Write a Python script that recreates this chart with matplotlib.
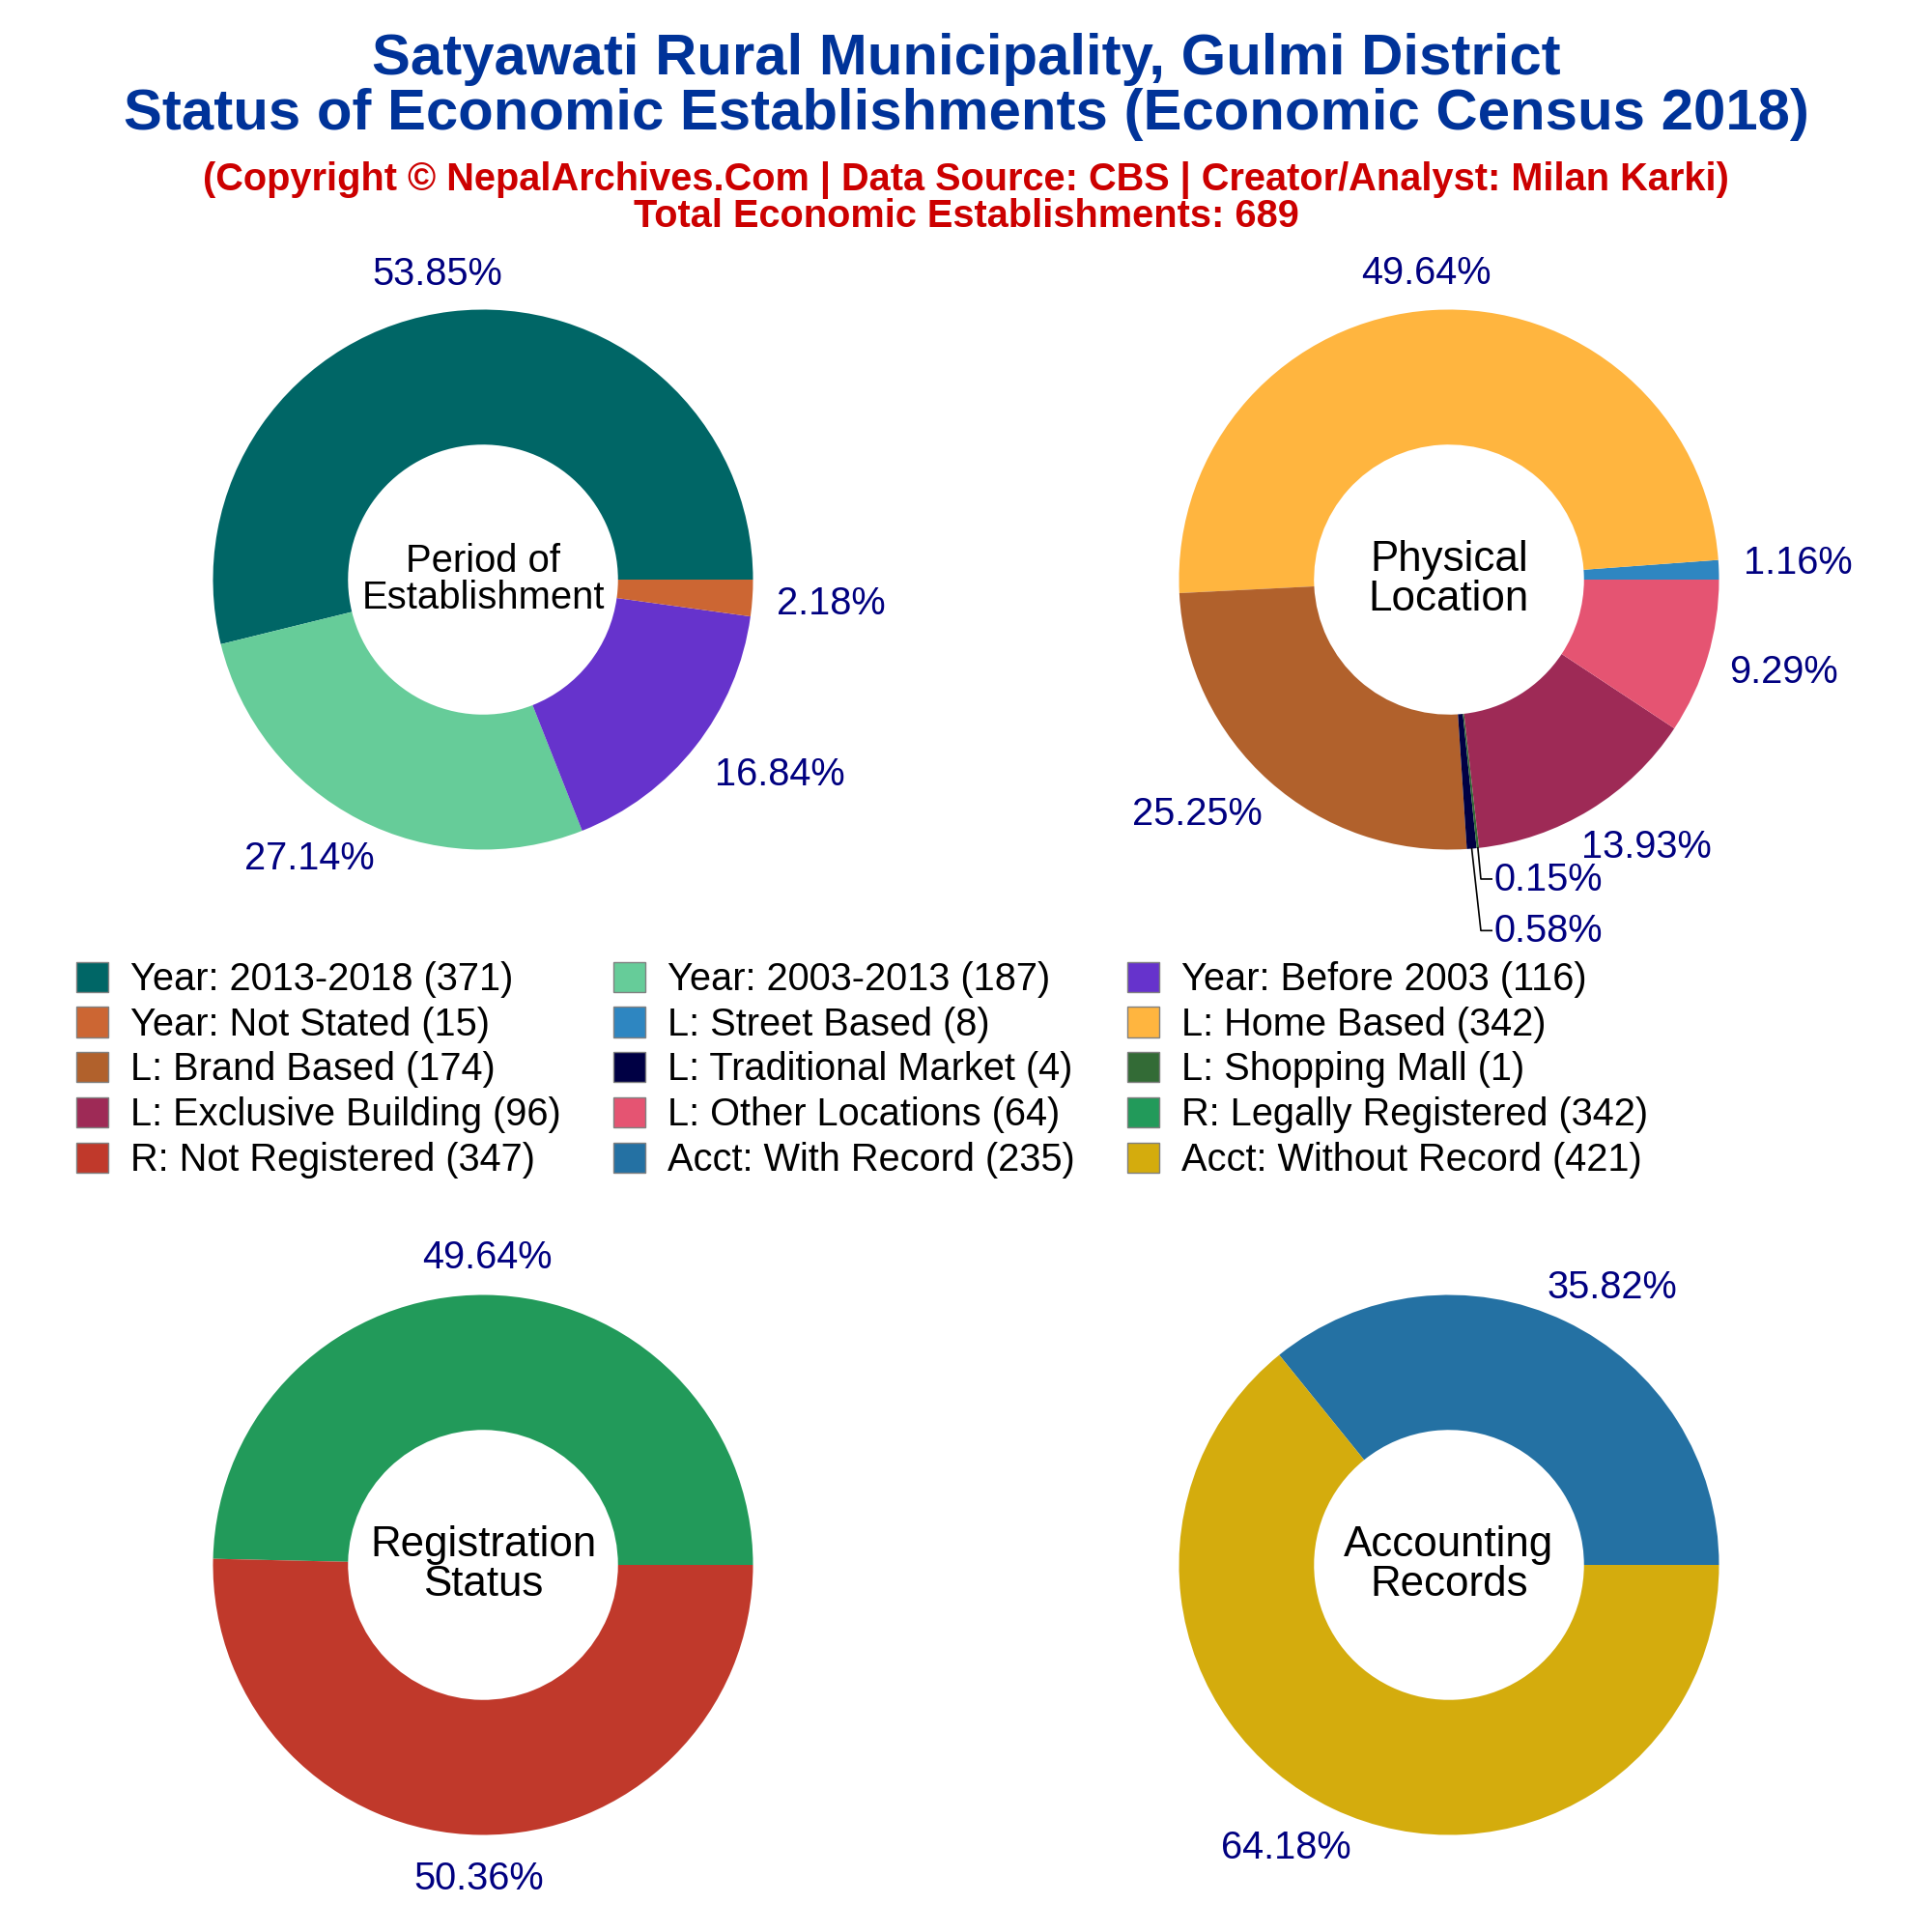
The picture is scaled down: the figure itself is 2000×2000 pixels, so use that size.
#!/usr/bin/env python3
# -*- coding: utf-8 -*-
import numpy as np
import matplotlib
matplotlib.use('Agg')
import matplotlib.pyplot as plt
from matplotlib.patches import Patch

plt.rcParams['font.family'] = ['Liberation Sans', 'DejaVu Sans']

title_main = 'Satyawati Rural Municipality, Gulmi District\nStatus of Economic Establishments (Economic Census 2018)'
title_sub = '(Copyright © NepalArchives.Com | Data Source: CBS | Creator/Analyst: Milan Karki)\nTotal Economic Establishments: 689'

# period of establishment
period_names = ['Year: 2013-2018', 'Year: 2003-2013', 'Year: Before 2003', 'Year: Not Stated']
period_vals = [371, 187, 116, 15]
period_cols = ['#006666', '#66CC99', '#6633CC', '#CC6633']

# physical location
loc_names = ['L: Street Based', 'L: Home Based', 'L: Brand Based', 'L: Traditional Market',
             'L: Shopping Mall', 'L: Exclusive Building', 'L: Other Locations']
loc_vals = [8, 342, 174, 4, 1, 96, 64]
loc_cols = ['#2E86C1', '#FFB53F', '#B1612C', '#000044', '#336B36', '#9E2A56', '#E55472']

# registration
reg_names = ['R: Legally Registered', 'R: Not Registered']
reg_vals = [342, 347]
reg_cols = ['#229A5A', '#C0392B']

# accounting
acct_names = ['Acct: With Record', 'Acct: Without Record']
acct_vals = [235, 421]
acct_cols = ['#2471A3', '#D4AC0D']

pct_color = '#000080'


def donut(ax, vals, cols, center_text, center_size=15.8, spacing=1.0, leader=None, nudge=None):
    vals = np.array(vals, dtype=float)
    ax.pie(vals, colors=cols, startangle=0, counterclock=True, radius=1.0,
           wedgeprops=dict(width=0.5, linewidth=0))
    ax.set_xlim(-1, 1)
    ax.set_ylim(-1, 1)
    ax.text(0, 0.0, center_text, ha='center', va='center', fontsize=center_size, linespacing=spacing)
    pct = vals / vals.sum() * 100
    mids = (np.cumsum(pct) - pct / 2) * 3.6
    for i, (p, m) in enumerate(zip(pct, mids)):
        txt = '%.2f%%' % p
        a = np.deg2rad(m)
        if leader and i in leader:
            # small slices get a bent line out to the label
            ly = leader[i]
            ax.plot([np.cos(a), 0.118, 0.158], [np.sin(a), ly, ly], color='black', lw=0.6,
                    clip_on=False)
            ax.text(0.168, ly - 0.003, txt, color=pct_color, fontsize=14.3, ha='left', va='center')
            continue
        rx = 1.40 if p >= 10 else 1.293
        x = rx * np.cos(a)
        y = 1.15 * np.sin(a) - 0.012
        if nudge and i in nudge:
            y += nudge[i]
        ax.text(x, y, txt, color=pct_color, fontsize=14.3, ha='center', va='center', clip_on=False)


fig = plt.figure(figsize=(10, 10), dpi=200)

# axes boxes follow the pie circles, figure fractions
r_px = 279.5
pw = 2 * r_px / 2000
ax1 = fig.add_axes([(500 - r_px) / 2000, 1 - (600 + r_px) / 2000, pw, pw])
ax2 = fig.add_axes([(1500 - r_px) / 2000, 1 - (600 + r_px) / 2000, pw, pw])
ax3 = fig.add_axes([(500 - r_px) / 2000, 1 - (1620 + r_px) / 2000, pw, pw])
ax4 = fig.add_axes([(1500 - r_px) / 2000, 1 - (1620 + r_px) / 2000, pw, pw])

donut(ax1, period_vals, period_cols, 'Period of\nEstablishment', center_size=14.4, spacing=1.03)
donut(ax2, loc_vals, loc_cols, 'Physical\nLocation', leader={3: -1.30, 4: -1.109}, nudge={0: 0.03})
donut(ax3, reg_vals, reg_cols, 'Registration\nStatus')
donut(ax4, acct_vals, acct_cols, 'Accounting\nRecords')

fig.text(0.5, 1 - 90 / 2000, title_main, color='#003399', fontsize=21.55, fontweight='bold',
         ha='center', va='center', linespacing=1.04)
fig.text(0.5, 1 - 205 / 2000, title_sub, color='#CC0000', fontsize=14.3, fontweight='bold',
         ha='center', va='center', linespacing=0.97)

# legend
names = period_names + loc_names + reg_names + acct_names
vals = period_vals + loc_vals + reg_vals + acct_vals
cols = period_cols + loc_cols + reg_cols + acct_cols
handles = [Patch(facecolor=c, edgecolor='gray', linewidth=0.5) for c in cols]
labels = ['%s (%d)' % (n, v) for n, v in zip(names, vals)]

# legend is filled row by row, matplotlib fills by column
ncol = 3
nrow = int(np.ceil(len(labels) / ncol))
order = [r * ncol + c for c in range(ncol) for r in range(nrow)]
leg = fig.legend([handles[i] for i in order], [labels[i] for i in order], ncol=ncol,
                 loc='center left', bbox_to_anchor=(79 / 2000, 1 - 1107.5 / 2000), frameon=False,
                 fontsize=14.3, handlelength=0.83, handleheight=0.83, handletextpad=0.58,
                 labelspacing=0.22, columnspacing=1.36, borderpad=0, borderaxespad=0)

plt.savefig('out.png', dpi=200)
plt.close()
